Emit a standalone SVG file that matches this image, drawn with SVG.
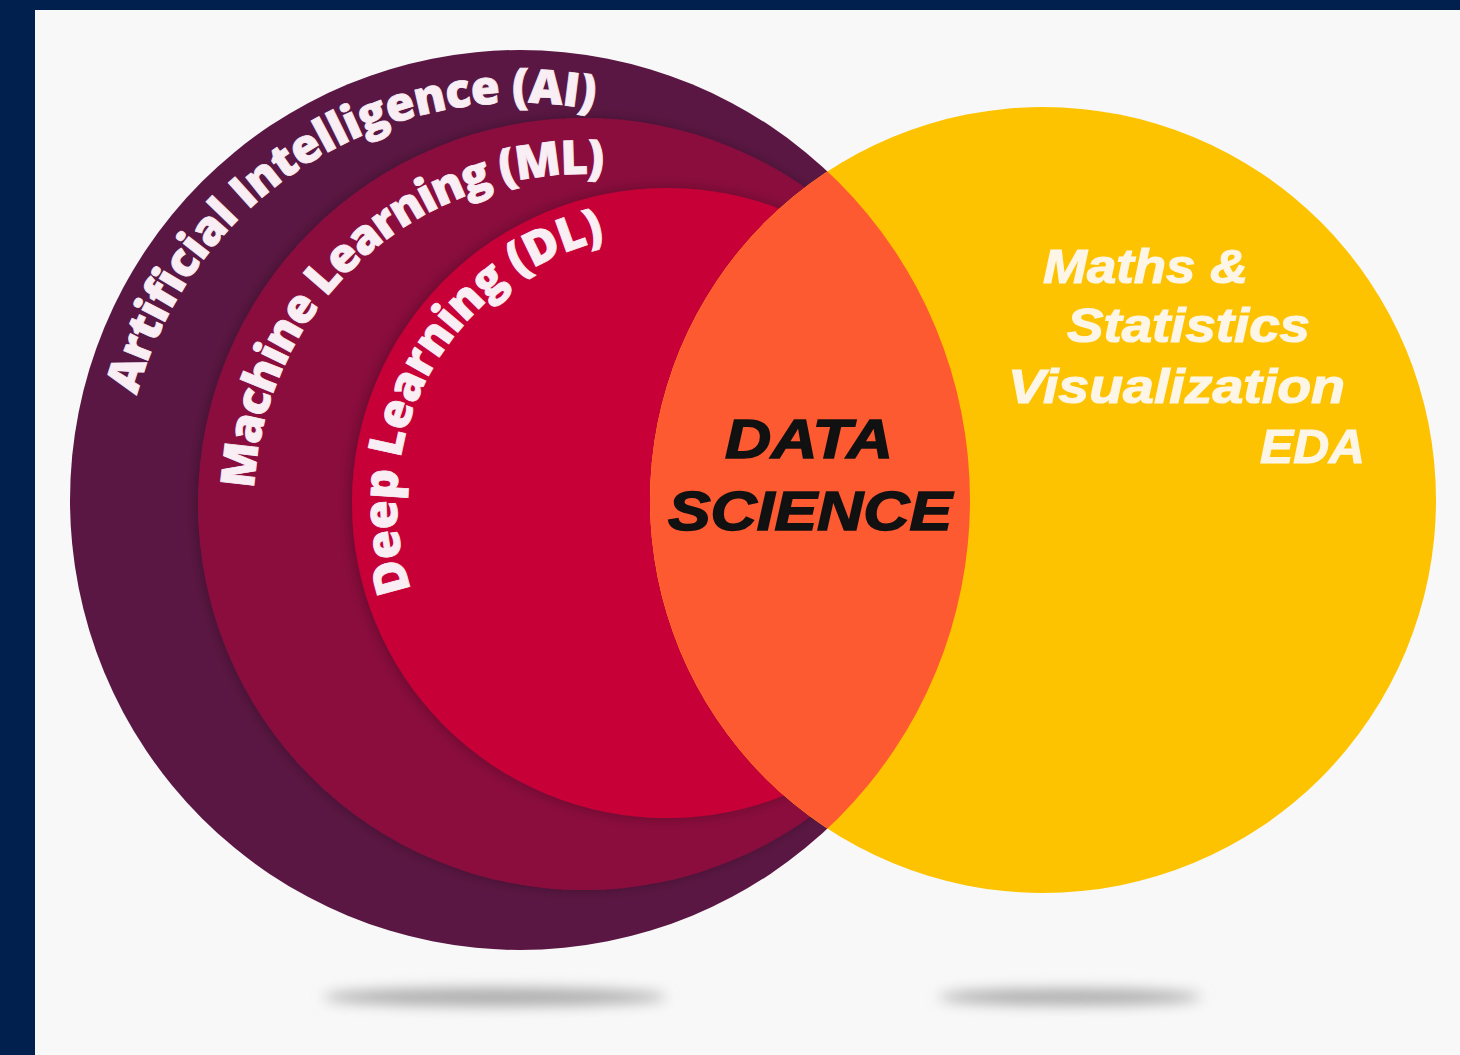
<svg xmlns="http://www.w3.org/2000/svg" width="1460" height="1055" viewBox="0 0 1460 1055">
<style>
.arc{font-family:"Open Sans","Liberation Sans",sans-serif;font-weight:800;font-size:47px;fill:#f8eef4;stroke:#f8eef4;stroke-width:0.8}
.ds{font-family:"Liberation Sans","Open Sans",sans-serif;font-weight:700;font-style:italic;font-size:56px;fill:#111;stroke:#111;stroke-width:1.6}
.yl{font-family:"Liberation Sans","Open Sans",sans-serif;font-weight:700;font-style:italic;font-size:49px;fill:#fdf5e6;stroke:#fdf5e6;stroke-width:1.2}
</style>
<defs>
<filter id="sh" x="-20%" y="-20%" width="140%" height="140%"><feDropShadow dx="-2" dy="0" stdDeviation="7" flood-color="#000" flood-opacity="0.28"/></filter>
<filter id="blur" x="-30%" y="-200%" width="160%" height="500%"><feGaussianBlur stdDeviation="7"/></filter>
<clipPath id="aiClip"><circle cx="520" cy="500" r="450"/></clipPath>
<path id="pAI" d="M123,513.9 A397,397 0 0 1 706.4,149.5"/>
<path id="pML" d="M261.2,572.6 A330,330 0 0 1 686,190.2"/>
<path id="pDL" d="M435.6,642.1 A270,270 0 0 1 662.3,233"/>
</defs>
<rect width="1460" height="1055" fill="#01204d"/>
<rect x="35" y="10" width="1425" height="1045" fill="#f8f8f8"/>
<g id="shadows">
<ellipse cx="495" cy="997" rx="172" ry="9" fill="#aaaaaa" filter="url(#blur)"/>
<ellipse cx="1070" cy="997" rx="132" ry="8" fill="#aaaaaa" filter="url(#blur)"/>
</g>
<g id="ai"><circle cx="520" cy="500" r="450" fill="#5b1743"/></g>
<g id="ml"><circle cx="584" cy="504" r="386" fill="#8b0d3d" filter="url(#sh)"/></g>
<g id="dl"><circle cx="667" cy="503" r="315" fill="#c70037" filter="url(#sh)"/></g>
<g id="ds-circle"><circle cx="1043" cy="500" r="393" fill="#fdc300"/></g>
<g id="overlap"><circle cx="1043" cy="500" r="393" fill="#fe5a31" clip-path="url(#aiClip)"/></g>
<g id="labels">
<text class="arc" text-anchor="middle"><textPath href="#pAI" startOffset="50%" textLength="592">Artificial Intelligence (AI)</textPath></text>
<text class="arc" text-anchor="middle"><textPath href="#pML" startOffset="50%" textLength="523">Machine Learning (ML)</textPath></text>
<text class="arc" text-anchor="middle"><textPath href="#pDL" startOffset="50%" textLength="450">Deep Learning (DL)</textPath></text>
<text class="ds" x="725" y="458" textLength="168" lengthAdjust="spacingAndGlyphs">DATA</text>
<text class="ds" x="668" y="530" textLength="284" lengthAdjust="spacingAndGlyphs">SCIENCE</text>
<text class="yl" x="1043" y="283" textLength="205" lengthAdjust="spacingAndGlyphs">Maths &amp;</text>
<text class="yl" x="1067" y="342" textLength="243" lengthAdjust="spacingAndGlyphs">Statistics</text>
<text class="yl" x="1008" y="403" textLength="337" lengthAdjust="spacingAndGlyphs">Visualization</text>
<text class="yl" x="1260" y="463" textLength="105" lengthAdjust="spacingAndGlyphs">EDA</text>
</g>
</svg>
